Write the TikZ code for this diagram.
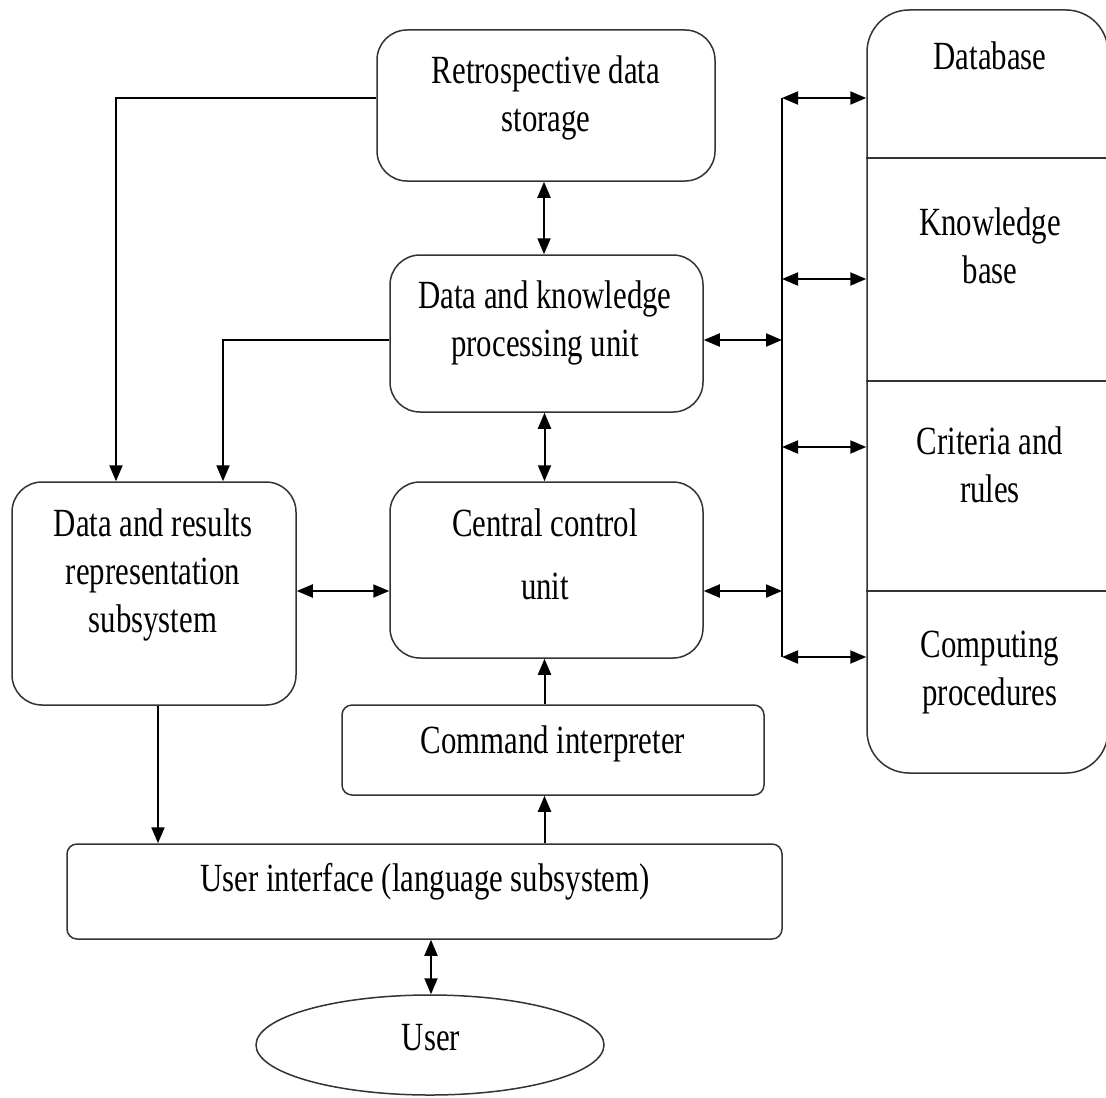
\documentclass[tikz,border=0pt]{standalone}
\usepackage{fontspec}
\setmainfont{Liberation Serif}[FakeStretch=0.77]
\usetikzlibrary{arrows.meta,shapes.geometric}

\begin{document}
\begin{tikzpicture}[x=0.5pt,y=-0.5pt,
  box/.style={draw=black!80, line width=0.75pt, rounded corners=15pt, inner sep=0pt},
  flat/.style={box, rounded corners=5pt},
  lbl/.style={font=\fontsize{20pt}{24pt}\selectfont, align=center, anchor=north, inner sep=0pt},
  link/.style={draw=black, line width=1pt},
  arr/.style={link, -{Triangle[length=8pt,width=6.5pt]}},
  dbl/.style={link, {Triangle[length=8pt,width=6.5pt]}-{Triangle[length=8pt,width=6.5pt]}}
]
\clip (0,0) rectangle (1106,1097);
\fill[white] (0,0) rectangle (1106,1097);

% main blocks
\node[box, minimum width=169pt, minimum height=75.5pt] (rds) at (546,105.5) {};
\node[box, minimum width=156.5pt, minimum height=78.5pt] (dkpu) at (546.5,333.5) {};
\node[box, minimum width=156.5pt, minimum height=88pt] (ccu) at (546.5,570) {};
\node[box, minimum width=142pt, minimum height=111.5pt] (drrs) at (154,593.5) {};
\node[flat, minimum width=211pt, minimum height=45pt] (ci) at (553,750) {};
\node[flat, minimum width=357.5pt, minimum height=47.5pt] (ui) at (424.5,891.5) {};
\node[draw=black!80, line width=0.75pt, ellipse, minimum width=174pt, minimum height=50pt, inner sep=0pt] (user) at (430,1045) {};

% storage column on the right
\node[box, rounded corners=21pt, minimum width=120.5pt, minimum height=381.5pt] (rb) at (987.5,391.5) {};
\draw[draw=black!80, line width=0.75pt] (rb.west |- 0,158) -- (1110,158)
      (rb.west |- 0,381) -- (1110,381)
      (rb.west |- 0,591) -- (1110,591);

% labels
\node[lbl] (t-rds) at (546,55) {Retrospective data\\storage};
\node[lbl] (t-dkpu) at (545,280) {Data and knowledge\\processing unit};
\node[lbl] (t-ccu) at (545,508) {Central control\\[7.5pt]unit};
\node[lbl] (t-drrs) at (153,508) {Data and results\\representation\\subsystem};
\node[lbl] (t-ci) at (553,725) {Command interpreter};
\node[lbl] (t-ui) at (425,863) {User interface (language subsystem)};
\node[lbl] (t-user) at (431,1024) {User};
\node[lbl] (t-db) at (990,41) {Database};
\node[lbl] (t-kb) at (990,207) {Knowledge\\base};
\node[lbl] (t-cr) at (990,426) {Criteria and\\rules};
\node[lbl] (t-cp) at (990,631) {Computing\\procedures};

% bus between the processing units and the storage column
\coordinate (bt) at (782,98);
\coordinate (bb) at (782,657);
\coordinate (b2) at (782,279);
\coordinate (b3) at (782,447);
\draw[link] (bt) -- (bb);
\draw[dbl] (bt) -- (bt -| rb.west);
\draw[dbl] (b2) -- (b2 -| rb.west);
\draw[dbl] (b3) -- (b3 -| rb.west);
\draw[dbl] (bb) -- (bb -| rb.west);

\coordinate (dkE) at ([yshift=-3.25pt]dkpu.east);
\coordinate (ccE) at ([yshift=-10.5pt]ccu.east);
\coordinate (ccW) at ([yshift=-10.5pt]ccu.west);
\draw[dbl] (dkE) -- (dkE -| bt);
\draw[dbl] (ccE) -- (ccE -| bt);
\draw[dbl] (ccW -| drrs.east) -- (ccW);

% feeds into the representation subsystem
\draw[arr] ([yshift=3.75pt]rds.west) -| ([xshift=-19pt]drrs.north);
\draw[arr] ([yshift=-3.25pt]dkpu.west) -| ([xshift=34.5pt]drrs.north);

% central column
\draw[dbl] ([xshift=-1pt]rds.south) -- ([xshift=-1pt]rds.south |- dkpu.north);
\draw[dbl] ([xshift=-1pt]dkpu.south) -- ([xshift=-1pt]ccu.south |- ccu.north);
\draw[arr] ([xshift=-1pt]ccu.south |- ci.north) -- ([xshift=-1pt]ccu.south);
\draw[arr] ([xshift=-1pt]ccu.south |- ui.north) -- ([xshift=-1pt]ccu.south |- ci.south);
\draw[arr] ([xshift=2pt]drrs.south) -- ([xshift=2pt]drrs.south |- ui.north);
\draw[dbl] ([xshift=0.5pt]user.north |- ui.south) -- ([xshift=0.5pt]user.north);
\end{tikzpicture}
\end{document}
